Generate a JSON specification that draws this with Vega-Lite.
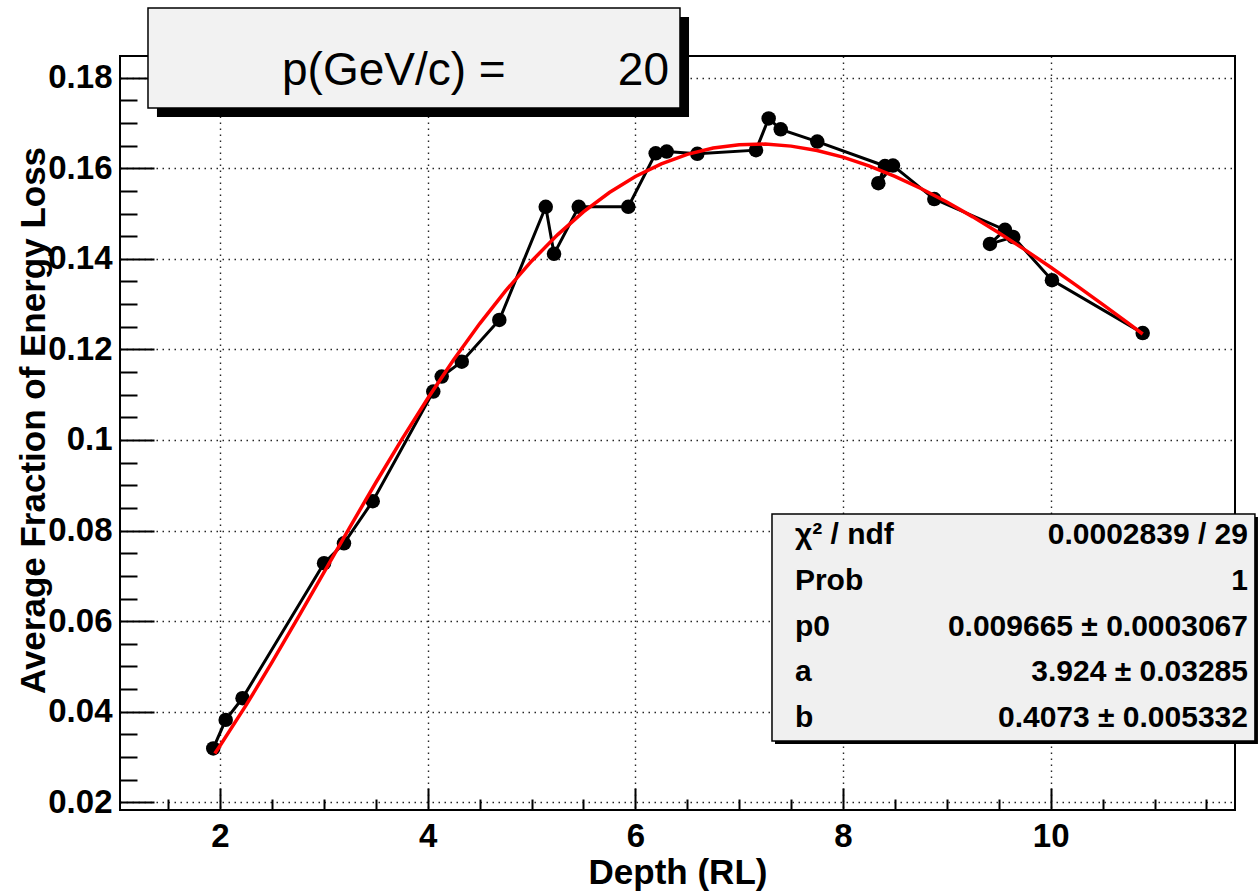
{
  "$schema": "https://vega.github.io/schema/vega-lite/v6.json",
  "width": 1115,
  "height": 754,
  "autosize": {"type": "none"},
  "padding": {"left": 120, "top": 56, "right": 24, "bottom": 82},
  "background": "white",
  "view": {"stroke": "#000", "strokeWidth": 2},
  "config": {
    "font": "Liberation Sans",
    "axis": {
      "labelFont": "Liberation Sans", "labelFontWeight": "bold", "labelFontSize": 33, "labelColor": "#000",
      "titleFont": "Liberation Sans", "titleFontWeight": "bold", "titleFontSize": 35, "titleColor": "#000",
      "tickColor": "#000", "tickWidth": 2, "domain": false,
      "gridColor": "#000", "gridDash": [1.5, 4.5], "gridWidth": 1.4, "gridOpacity": 0.85,
      "labelFlush": false, "labelOverlap": false
    }
  },
  "datasets": {
    "points": [
      {"depth": 1.935, "frac": 0.0319},
      {"depth": 2.055, "frac": 0.0382},
      {"depth": 2.217, "frac": 0.0430},
      {"depth": 3.002, "frac": 0.0728},
      {"depth": 3.194, "frac": 0.0772},
      {"depth": 3.471, "frac": 0.0865},
      {"depth": 4.054, "frac": 0.1107},
      {"depth": 4.135, "frac": 0.1140},
      {"depth": 4.328, "frac": 0.1173},
      {"depth": 4.690, "frac": 0.1265},
      {"depth": 5.137, "frac": 0.1515},
      {"depth": 5.217, "frac": 0.1411},
      {"depth": 5.455, "frac": 0.1515},
      {"depth": 5.932, "frac": 0.1515},
      {"depth": 6.196, "frac": 0.1633},
      {"depth": 6.302, "frac": 0.1637},
      {"depth": 6.597, "frac": 0.1632},
      {"depth": 7.162, "frac": 0.1640},
      {"depth": 7.284, "frac": 0.1710},
      {"depth": 7.400, "frac": 0.1686},
      {"depth": 7.752, "frac": 0.1659},
      {"depth": 8.404, "frac": 0.1605},
      {"depth": 8.340, "frac": 0.1567},
      {"depth": 8.481, "frac": 0.1606},
      {"depth": 8.879, "frac": 0.1532},
      {"depth": 9.560, "frac": 0.1464},
      {"depth": 9.415, "frac": 0.1433},
      {"depth": 9.640, "frac": 0.1448},
      {"depth": 10.012, "frac": 0.1353},
      {"depth": 10.886, "frac": 0.1236}
    ],
    "fit": [
      {"depth": 1.95, "frac": 0.03078},
      {"depth": 2.0, "frac": 0.03248},
      {"depth": 2.25, "frac": 0.0414},
      {"depth": 2.5, "frac": 0.05088},
      {"depth": 2.75, "frac": 0.06072},
      {"depth": 3.0, "frac": 0.07073},
      {"depth": 3.25, "frac": 0.08073},
      {"depth": 3.5, "frac": 0.09056},
      {"depth": 3.75, "frac": 0.10007},
      {"depth": 4.0, "frac": 0.10916},
      {"depth": 4.25, "frac": 0.11771},
      {"depth": 4.5, "frac": 0.12565},
      {"depth": 4.75, "frac": 0.13293},
      {"depth": 5.0, "frac": 0.13948},
      {"depth": 5.25, "frac": 0.1453},
      {"depth": 5.5, "frac": 0.15035},
      {"depth": 5.75, "frac": 0.15465},
      {"depth": 6.0, "frac": 0.15818},
      {"depth": 6.25, "frac": 0.16098},
      {"depth": 6.5, "frac": 0.16307},
      {"depth": 6.75, "frac": 0.16446},
      {"depth": 7.0, "frac": 0.16521},
      {"depth": 7.25, "frac": 0.16534},
      {"depth": 7.5, "frac": 0.16489},
      {"depth": 7.75, "frac": 0.16391},
      {"depth": 8.0, "frac": 0.16245},
      {"depth": 8.25, "frac": 0.16053},
      {"depth": 8.5, "frac": 0.15822},
      {"depth": 8.75, "frac": 0.15554},
      {"depth": 9.0, "frac": 0.15254},
      {"depth": 9.25, "frac": 0.14927},
      {"depth": 9.5, "frac": 0.14575},
      {"depth": 9.75, "frac": 0.14203},
      {"depth": 10.0, "frac": 0.13813},
      {"depth": 10.25, "frac": 0.1341},
      {"depth": 10.5, "frac": 0.12996},
      {"depth": 10.75, "frac": 0.12574},
      {"depth": 10.886, "frac": 0.12341}
    ]
  },
  "resolve": {"axis": {"x": "independent", "y": "independent"}},
  "layer": [
    {
      "data": {"name": "points"},
      "mark": {"type": "line", "color": "#000", "strokeWidth": 3},
      "encoding": {
        "x": {"field": "depth", "type": "quantitative",
          "scale": {"domain": [1.037, 11.775], "nice": false, "zero": false},
          "axis": {"orient": "bottom", "title": "Depth (RL)", "values": [2, 4, 6, 8, 10], "format": "~r",
            "grid": true, "ticks": false, "labelPadding": 10, "titleY": 73, "titleBaseline": "alphabetic"}},
        "y": {"field": "frac", "type": "quantitative",
          "scale": {"domain": [0.0183, 0.18479], "nice": false, "zero": false},
          "axis": {"orient": "left", "title": "Average Fraction of Energy Loss",
            "values": [0.02, 0.04, 0.06, 0.08, 0.1, 0.12, 0.14, 0.16, 0.18], "format": "~r",
            "grid": true, "ticks": false, "labelPadding": 8,
            "titleX": -87, "titleY": 364, "titleBaseline": "middle", "titleAlign": "center", "titleAngle": -90}},
        "order": {"value": null}
      }
    },
    {
      "data": {"name": "points"},
      "mark": {"type": "point", "shape": "circle", "filled": true, "color": "#000", "size": 210, "opacity": 1},
      "encoding": {
        "x": {"field": "depth", "type": "quantitative",
          "scale": {"domain": [1.037, 11.775], "nice": false, "zero": false},
          "axis": {"orient": "bottom", "title": null, "values": [2, 4, 6, 8, 10], "labels": false, "grid": false, "ticks": true, "tickSize": -22}},
        "y": {"field": "frac", "type": "quantitative",
          "scale": {"domain": [0.0183, 0.18479], "nice": false, "zero": false},
          "axis": {"orient": "left", "title": null, "values": [0.02, 0.04, 0.06, 0.08, 0.1, 0.12, 0.14, 0.16, 0.18], "labels": false, "grid": false, "ticks": true, "tickSize": -34}}
      }
    },
    {
      "data": {"name": "fit"},
      "mark": {"type": "line", "color": "#ff0000", "strokeWidth": 3.5},
      "encoding": {
        "x": {"field": "depth", "type": "quantitative",
          "scale": {"domain": [1.037, 11.775], "nice": false, "zero": false},
          "axis": {"orient": "bottom", "title": null, "values": [1.5, 2.5, 3, 3.5, 4.5, 5, 5.5, 6.5, 7, 7.5, 8.5, 9, 9.5, 10.5, 11, 11.5], "labels": false, "grid": false, "ticks": true, "tickSize": -11}},
        "y": {"field": "frac", "type": "quantitative",
          "scale": {"domain": [0.0183, 0.18479], "nice": false, "zero": false},
          "axis": {"orient": "left", "title": null, "values": [0.025, 0.03, 0.035, 0.045, 0.05, 0.055, 0.065, 0.07, 0.075, 0.085, 0.09, 0.095, 0.105, 0.11, 0.115, 0.125, 0.13, 0.135, 0.145, 0.15, 0.155, 0.165, 0.17, 0.175], "labels": false, "grid": false, "ticks": true, "tickSize": -17}}
      }
    },
    {
      "data": {"values": [{}]},
      "mark": {"type": "rect", "fill": "#000"},
      "encoding": {
        "x": {"datum": 1.393, "type": "quantitative", "scale": {"domain": [1.037, 11.775], "nice": false, "zero": false}, "axis": null},
        "x2": {"datum": 6.517},
        "y": {"datum": 0.1934, "type": "quantitative", "scale": {"domain": [0.0183, 0.18479], "nice": false, "zero": false}, "axis": null},
        "y2": {"datum": 0.17132}
      }
    },
    {
      "data": {"values": [{}]},
      "mark": {"type": "rect", "fill": "#f2f2f2", "stroke": "#000", "strokeWidth": 1.5},
      "encoding": {
        "x": {"datum": 1.3066, "type": "quantitative", "scale": {"domain": [1.037, 11.775], "nice": false, "zero": false}, "axis": null},
        "x2": {"datum": 6.43},
        "y": {"datum": 0.19539, "type": "quantitative", "scale": {"domain": [0.0183, 0.18479], "nice": false, "zero": false}, "axis": null},
        "y2": {"datum": 0.17331}
      }
    },
    {
      "data": {"values": [{}]},
      "mark": {"type": "text", "text": "p(GeV/c) =", "align": "left", "baseline": "alphabetic", "font": "Liberation Sans", "fontSize": 46, "color": "#000"},
      "encoding": {
        "x": {"datum": 2.597, "type": "quantitative", "scale": {"domain": [1.037, 11.775], "nice": false, "zero": false}, "axis": null},
        "y": {"datum": 0.1783, "type": "quantitative", "scale": {"domain": [0.0183, 0.18479], "nice": false, "zero": false}, "axis": null}
      }
    },
    {
      "data": {"values": [{}]},
      "mark": {"type": "text", "text": "20", "align": "right", "baseline": "alphabetic", "font": "Liberation Sans", "fontSize": 46, "color": "#000"},
      "encoding": {
        "x": {"datum": 6.324, "type": "quantitative", "scale": {"domain": [1.037, 11.775], "nice": false, "zero": false}, "axis": null},
        "y": {"datum": 0.1783, "type": "quantitative", "scale": {"domain": [0.0183, 0.18479], "nice": false, "zero": false}, "axis": null}
      }
    },
    {
      "data": {"values": [{}]},
      "mark": {"type": "rect", "fill": "#000"},
      "encoding": {
        "x": {"datum": 7.345, "type": "quantitative", "scale": {"domain": [1.037, 11.775], "nice": false, "zero": false}, "axis": null},
        "x2": {"datum": 11.996},
        "y": {"datum": 0.083, "type": "quantitative", "scale": {"domain": [0.0183, 0.18479], "nice": false, "zero": false}, "axis": null},
        "y2": {"datum": 0.03288}
      }
    },
    {
      "data": {"values": [{}]},
      "mark": {"type": "rect", "fill": "#f0f0f0", "stroke": "#000", "strokeWidth": 1.5},
      "encoding": {
        "x": {"datum": 7.316, "type": "quantitative", "scale": {"domain": [1.037, 11.775], "nice": false, "zero": false}, "axis": null},
        "x2": {"datum": 11.967},
        "y": {"datum": 0.08366, "type": "quantitative", "scale": {"domain": [0.0183, 0.18479], "nice": false, "zero": false}, "axis": null},
        "y2": {"datum": 0.03354}
      }
    },
    {
      "data": {"values": [{}]},
      "mark": {"type": "text", "text": ["χ² / ndf", "Prob", "p0", "a", "b"], "lineHeight": 45.75, "align": "left", "baseline": "middle", "font": "Liberation Sans", "fontWeight": "bold", "fontSize": 30, "color": "#000"},
      "encoding": {
        "x": {"datum": 7.537, "type": "quantitative", "scale": {"domain": [1.037, 11.775], "nice": false, "zero": false}, "axis": null},
        "y": {"datum": 0.07902, "type": "quantitative", "scale": {"domain": [0.0183, 0.18479], "nice": false, "zero": false}, "axis": null}
      }
    },
    {
      "data": {"values": [{}]},
      "mark": {"type": "text", "text": ["0.0002839 / 29", "1", "0.009665 ± 0.0003067", "3.924 ± 0.03285", "0.4073 ± 0.005332"], "lineHeight": 45.75, "align": "right", "baseline": "middle", "font": "Liberation Sans", "fontWeight": "bold", "fontSize": 30, "color": "#000"},
      "encoding": {
        "x": {"datum": 11.9, "type": "quantitative", "scale": {"domain": [1.037, 11.775], "nice": false, "zero": false}, "axis": null},
        "y": {"datum": 0.07902, "type": "quantitative", "scale": {"domain": [0.0183, 0.18479], "nice": false, "zero": false}, "axis": null}
      }
    }
  ]
}
